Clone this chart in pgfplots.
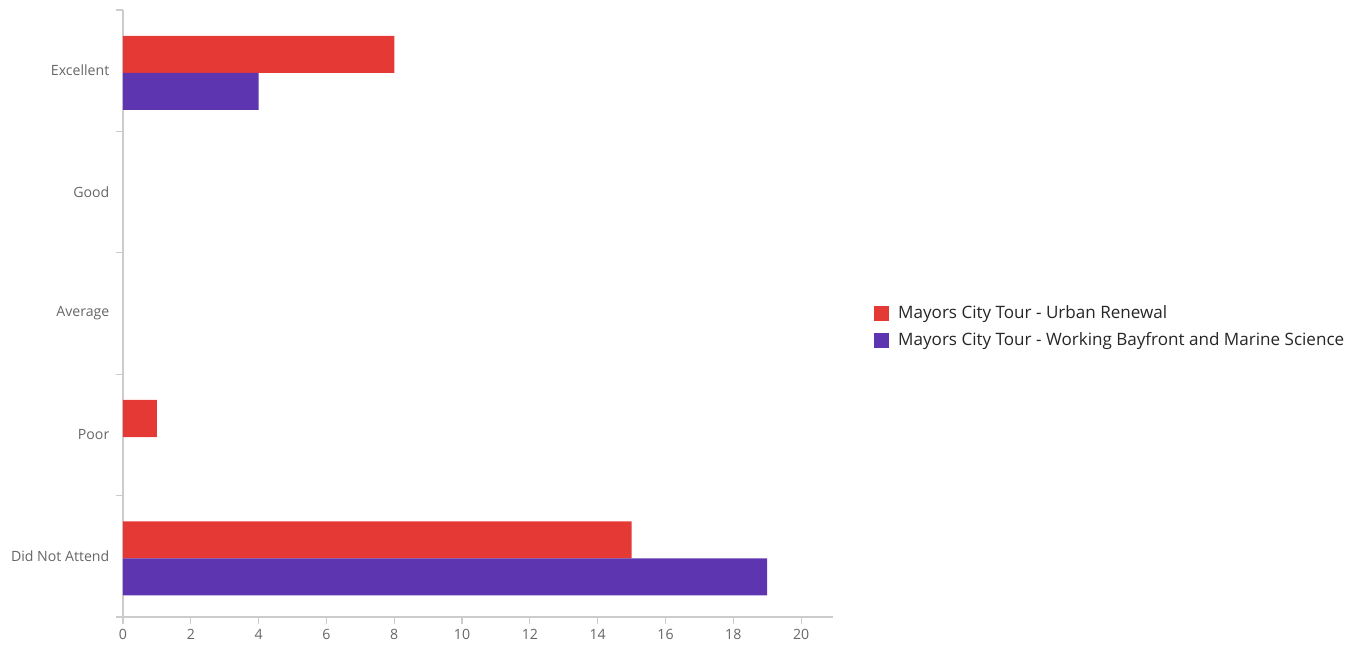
\documentclass[border=0pt]{standalone}
\usepackage{pgfplots}
\pgfplotsset{compat=1.18}
\usepackage{fontspec}
\setmainfont{Open Sans}
\definecolor{cred}{HTML}{E53935}
\definecolor{cpurple}{HTML}{5E35B1}
\definecolor{axgrey}{HTML}{CCCCCC}
\definecolor{lblgrey}{HTML}{666666}
\begin{document}
\begin{tikzpicture}[x=0.75pt,y=0.75pt]
\useasboundingbox (-123,-31) rectangle (1241,617);
\begin{axis}[
  at={(0,0)}, anchor=south west,
  scale only axis,
  width=532.5pt, height=455.25pt,
  xbar, bar width=0.305,
  xmin=0, xmax=20.94,
  ymin=-0.5, ymax=4.5,
  axis lines*=left,
  axis line style={axgrey, line width=0.9pt},
  every axis plot/.append style={draw=none},
  xtick={0,2,...,20},
  ytick={-0.5,0.5,1.5,2.5,3.5,4.5},
  yticklabels={},
  extra y ticks={0,1,2,3,4},
  extra y tick labels={Did Not Attend,Poor,Average,Good,Excellent},
  extra y tick style={major tick length=0pt},
  tick style={axgrey, line width=0.9pt},
  tick align=outside,
  major tick length=5pt,
  ticklabel style={font=\fontsize{10.6}{12}\selectfont, text=lblgrey},
  /pgf/number format/assume math mode=true,
  yticklabel style={xshift=-6.75pt},
  xticklabel style={yshift=-1pt},
  legend style={at={(1.052,0.478)}, anchor=west, draw=none, fill=none,
    font=\fontsize{12.8}{15}\selectfont, text=black!85, row sep=5pt,
    legend cell align=left, /tikz/every odd column/.append style={column sep=5pt}},
  legend image code/.code={\fill[#1] (0pt,-5.5pt) rectangle (11pt,5.5pt);},
  clip=false,
]
\addplot[fill=cred, bar shift=0.135] coordinates {(15,0) (1,1) (8,4)};
\addplot[fill=cpurple, bar shift=-0.17] coordinates {(19,0) (4,4)};
\legend{Mayors City Tour - Urban Renewal, Mayors City Tour - Working Bayfront and Marine Science}
\end{axis}
\end{tikzpicture}
\end{document}
